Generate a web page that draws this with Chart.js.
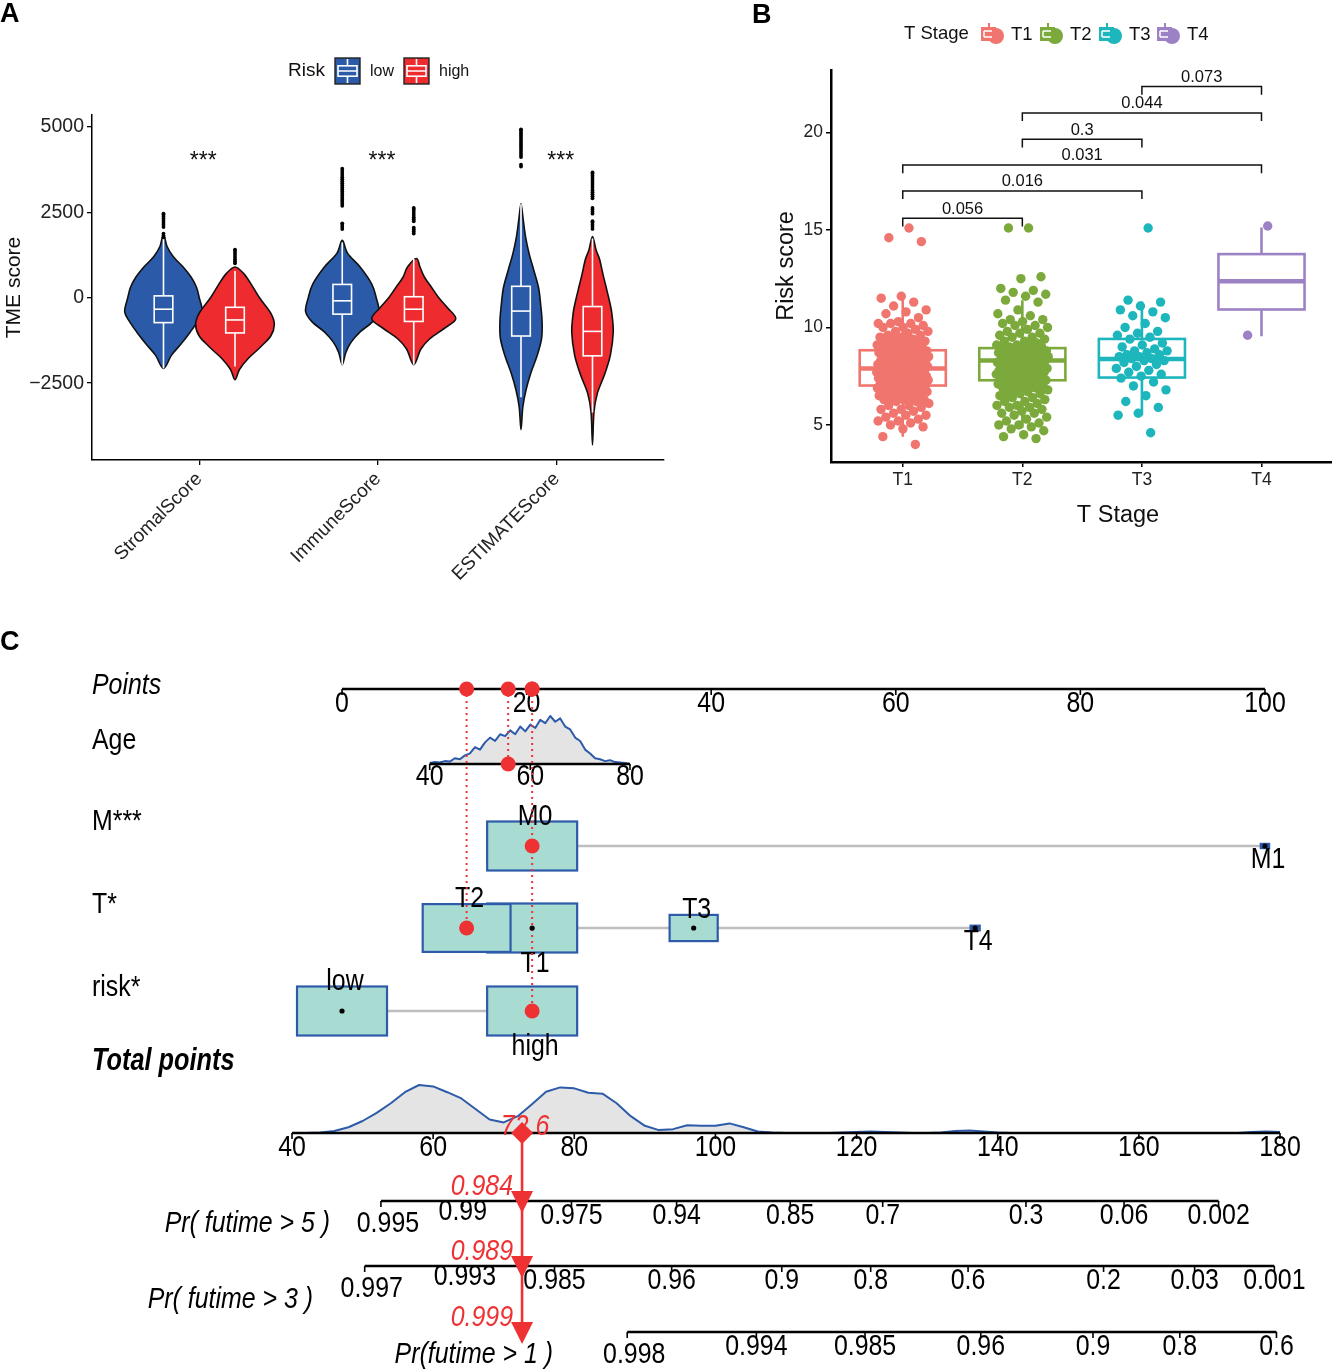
<!DOCTYPE html>
<html lang="en">
<head>
<meta charset="UTF-8">
<title>TME score, risk score by T stage and nomogram</title>
<script src="https://cdn.jsdelivr.net/npm/chart.js"></script>
<style>
  body { margin: 0; background: #fff; }
  #page { position: relative; width: 1332px; height: 1370px; overflow: hidden; background: #fff; }
  canvas { position: absolute; }
  .tag { position: absolute; font: bold 27px 'Liberation Sans', Arial, sans-serif; color: #000; }
</style>
</head>
<body>
<div id="page">
  <canvas id="chartA" width="700" height="600" style="left:0;top:0"></canvas>
  <canvas id="chartB" width="665" height="540" style="left:740px;top:0"></canvas>
  <canvas id="chartC" width="1332" height="730" style="left:0;top:640px"></canvas>
  <div class="tag" style="left:0;top:-2px">A</div>
  <div class="tag" style="left:752px;top:-1px">B</div>
  <div class="tag" style="left:0;top:626px">C</div>
</div>
<script>
const FONT = "'Liberation Sans', Arial, Helvetica, sans-serif";
Chart.defaults.font.family = FONT;
Chart.defaults.color = '#111';

// ---------------- A: TME scores by risk group ----------------
const tmeScores = ['StromalScore', 'ImmuneScore', 'ESTIMATEScore'];
const riskGroups = ['low', 'high'];
const tmeTicks = [-2500, 0, 2500, 5000];
const tmeSignif = ['***', '***', '***'];

// [lower whisker, Q1, median, Q3, upper whisker]
const boxLow = [[-2070, -728, -336, 55, 1850], [-1960, -480, -90, 390, 1620], [-2910, -1120, -390, 335, 2740]];
const boxHigh = [[-2015, -1030, -650, -280, 780], [-1960, -694, -336, 30, 1140], [-3360, -1700, -985, -258, 1735]];

const outLow = [
  [1770, 1820, 1880, 2070, 2130, 2190, 2250, 2310, 2370, 2430, 2460],
  [2010, 2070, 2130, 2180, 2690, 2750, 2810, 2870, 2930, 2990, 3050, 3110, 3170, 3230, 3290, 3350, 3410, 3470, 3530, 3590, 3650, 3710, 3780],
  [3840, 3900, 4120, 4180, 4240, 4300, 4360, 4420, 4480, 4540, 4600, 4660, 4720, 4780, 4840, 4900, 4930]
];
const outHigh = [
  [1010, 1070, 1130, 1190, 1250, 1310, 1370, 1410],
  [1880, 1940, 2000, 2050, 2240, 2300, 2360, 2420, 2480, 2540, 2600, 2630],
  [2015, 2075, 2135, 2195, 2240, 2460, 2520, 2580, 2630, 2910, 2970, 3030, 3090, 3150, 3210, 3270, 3330, 3390, 3450, 3510, 3570, 3630, 3670]
];

// violin outlines: score levels (top to bottom) and half widths
const stromalLowLevel = [1850, 1500, 1200, 900, 600, 300, 0, -400, -700, -1000, -1340, -1680, -2070];
const stromalLowWidth = [0, 0.02, 0.055, 0.11, 0.155, 0.185, 0.2, 0.217, 0.19, 0.15, 0.1, 0.045, 0];
const stromalHighLevel = [900, 700, 400, 0, -450, -780, -1120, -1455, -1800, -2100, -2400];
const stromalHighWidth = [0, 0.05, 0.09, 0.137, 0.2, 0.22, 0.2, 0.14, 0.07, 0.025, 0];
const immuneLowLevel = [1680, 1300, 900, 400, 0, -400, -700, -1000, -1300, -1600, -1960];
const immuneLowWidth = [0, 0.03, 0.1, 0.165, 0.19, 0.205, 0.17, 0.1, 0.05, 0.02, 0];
const immuneHighLevel = [1150, 900, 600, 300, 0, -300, -620, -900, -1200, -1500, -1960];
const immuneHighWidth = [0.015, 0.035, 0.06, 0.1, 0.14, 0.19, 0.235, 0.17, 0.09, 0.04, 0];
const estimateLowLevel = [2750, 2300, 1800, 1300, 800, 300, -200, -700, -1200, -1700, -2200, -2700, -3200, -3860];
const estimateLowWidth = [0, 0.012, 0.025, 0.045, 0.072, 0.098, 0.11, 0.118, 0.115, 0.09, 0.055, 0.028, 0.01, 0];
const estimateHighLevel = [1790, 1400, 1120, 700, 335, -100, -450, -1010, -1680, -2240, -2800, -3360, -4310];
const estimateHighWidth = [0, 0.02, 0.04, 0.058, 0.075, 0.095, 0.108, 0.116, 0.1, 0.068, 0.027, 0.008, 0];

const riskColors = ['#2B5BA8', '#EE2B2F'];
const riskShift = [-0.2, 0.2];
const violins = [
  { score: 1, group: 0, level: stromalLowLevel, width: stromalLowWidth },
  { score: 1, group: 1, level: stromalHighLevel, width: stromalHighWidth },
  { score: 2, group: 0, level: immuneLowLevel, width: immuneLowWidth },
  { score: 2, group: 1, level: immuneHighLevel, width: immuneHighWidth },
  { score: 3, group: 0, level: estimateLowLevel, width: estimateLowWidth },
  { score: 3, group: 1, level: estimateHighLevel, width: estimateHighWidth }
];

function smoothClosed(ctx, pts) {
  const n = pts.length;
  ctx.moveTo(pts[0][0], pts[0][1]);
  for (let i = 0; i < n; i++) {
    const p0 = pts[(i - 1 + n) % n], p1 = pts[i], p2 = pts[(i + 1) % n], p3 = pts[(i + 2) % n];
    ctx.bezierCurveTo(p1[0] + (p2[0] - p0[0]) / 6, p1[1] + (p2[1] - p0[1]) / 6,
                      p2[0] - (p3[0] - p1[0]) / 6, p2[1] - (p3[1] - p1[1]) / 6, p2[0], p2[1]);
  }
  ctx.closePath();
}

function boxKey(ctx, x, y, w, h, fill) {
  ctx.fillStyle = fill;
  ctx.fillRect(x, y, w, h);
  ctx.strokeStyle = '#222'; ctx.lineWidth = 1.4;
  ctx.strokeRect(x, y, w, h);
  ctx.strokeStyle = '#fff'; ctx.lineWidth = 1.6;
  const cx = x + w / 2;
  ctx.strokeRect(x + 3, y + h * 0.3, w - 6, h * 0.4);
  ctx.beginPath();
  ctx.moveTo(x + 3, y + h / 2); ctx.lineTo(x + w - 3, y + h / 2);
  ctx.moveTo(cx, y + 1); ctx.lineTo(cx, y + h * 0.3);
  ctx.moveTo(cx, y + h * 0.7); ctx.lineTo(cx, y + h - 1);
  ctx.stroke();
}

const violinPlugin = {
  id: 'violins',
  beforeDatasetsDraw(chart) {
    const { ctx, scales: { x, y } } = chart;
    violins.forEach(v => {
      const cx = v.score + riskShift[v.group];
      const right = v.level.map((lv, i) => [x.getPixelForValue(cx + v.width[i]), y.getPixelForValue(lv)]);
      const left = [];
      for (let i = v.level.length - 2; i >= 1; i--) {
        left.push([x.getPixelForValue(cx - v.width[i]), y.getPixelForValue(v.level[i])]);
      }
      ctx.save();
      ctx.beginPath();
      smoothClosed(ctx, right.concat(left));
      ctx.fillStyle = riskColors[v.group];
      ctx.fill();
      ctx.lineWidth = 1.6; ctx.strokeStyle = '#111'; ctx.stroke();

      const s = (v.group === 0 ? boxLow : boxHigh)[v.score - 1];
      const py = s.map(val => y.getPixelForValue(val));
      const xc = x.getPixelForValue(cx);
      const bx0 = x.getPixelForValue(cx - 0.052), bx1 = x.getPixelForValue(cx + 0.052);
      ctx.strokeStyle = '#fff'; ctx.lineWidth = 1.6;
      ctx.beginPath();
      ctx.moveTo(xc, py[0]); ctx.lineTo(xc, py[1]);
      ctx.moveTo(xc, py[3]); ctx.lineTo(xc, py[4]);
      ctx.stroke();
      ctx.fillRect(bx0, py[3], bx1 - bx0, py[1] - py[3]);
      ctx.strokeRect(bx0, py[3], bx1 - bx0, py[1] - py[3]);
      ctx.beginPath(); ctx.moveTo(bx0, py[2]); ctx.lineTo(bx1, py[2]); ctx.stroke();
      ctx.restore();
    });
  },
  afterDatasetsDraw(chart) {
    const { ctx, scales: { x, y } } = chart;
    ctx.save();
    ctx.fillStyle = '#111'; ctx.font = `23px ${FONT}`;
    ctx.textAlign = 'center'; ctx.textBaseline = 'middle';
    tmeSignif.forEach((s, i) => ctx.fillText(s, x.getPixelForValue(i + 1) + 4, y.getPixelForValue(3980)));
    ctx.restore();
  },
  afterDraw(chart) {
    const ctx = chart.ctx;
    ctx.save();
    ctx.fillStyle = '#111'; ctx.textBaseline = 'middle'; ctx.textAlign = 'left';
    ctx.font = `19px ${FONT}`;
    ctx.fillText('Risk', 288, 71);
    ctx.font = `16px ${FONT}`;
    boxKey(ctx, 335, 58, 25, 26, riskColors[0]);
    ctx.fillStyle = '#111';
    ctx.fillText(riskGroups[0], 370, 72);
    boxKey(ctx, 404, 58, 25, 26, riskColors[1]);
    ctx.fillStyle = '#111';
    ctx.fillText(riskGroups[1], 439, 72);
    ctx.restore();
  }
};

const outlierPoints = [];
outLow.forEach((arr, i) => arr.forEach(v => outlierPoints.push({ x: i + 1 + riskShift[0], y: v })));
outHigh.forEach((arr, i) => arr.forEach(v => outlierPoints.push({ x: i + 1 + riskShift[1], y: v })));

new Chart(document.getElementById('chartA'), {
  type: 'scatter',
  data: { datasets: [{ label: 'outliers', data: outlierPoints, pointRadius: 1.9, backgroundColor: '#000', borderWidth: 0, clip: false }] },
  options: {
    responsive: false, animation: false,
    layout: { autoPadding: false, padding: { left: 0, top: 115, right: 36, bottom: 0 } },
    plugins: { legend: { display: false }, tooltip: { enabled: false } },
    scales: {
      x: {
        type: 'linear', min: 0.4, max: 3.6,
        afterBuildTicks: s => { s.ticks = tmeScores.map((_, i) => ({ value: i + 1 })); },
        afterFit: s => { s.height = 140; },
        ticks: { callback: v => tmeScores[v - 1], minRotation: 45, maxRotation: 45, autoSkip: false, color: '#222', font: { size: 19 } },
        grid: { drawOnChartArea: false, tickLength: 5, color: '#000', lineWidth: 1.3 },
        border: { color: '#000', width: 1.5 }
      },
      y: {
        min: -4750, max: 5350,
        afterBuildTicks: s => { s.ticks = tmeTicks.map(v => ({ value: v })); },
        afterFit: s => { s.width = 92; },
        ticks: { callback: v => v < 0 ? '\u2212' + Math.abs(v) : String(v), color: '#222', font: { size: 19.5 } },
        grid: { drawOnChartArea: false, tickLength: 5, color: '#000', lineWidth: 1.3 },
        border: { color: '#000', width: 1.5 },
        title: { display: true, text: 'TME score', font: { size: 21 }, color: '#111', padding: { top: 2, bottom: 4 } }
      }
    }
  },
  plugins: [violinPlugin]
});

// ---------------- B: risk score by T stage ----------------
const stages = ['T1', 'T2', 'T3', 'T4'];
const stageTicks = [5, 10, 15, 20];
const t1Risk = [15.1, 14.6, 14.4, 11.6, 11.5, 11.3, 11.1, 10.9, 10.8, 10.7, 10.5, 10.3, 10.2, 10.2, 10.2, 10.1, 10.0, 10.0,
  9.9, 9.8, 9.8, 9.7, 9.6, 9.6, 9.5, 9.5, 9.4, 9.4, 9.3, 9.3, 9.2, 9.2, 9.1, 9.1, 9.0, 9.0, 9.0, 8.9, 8.9, 8.9, 8.8, 8.8,
  8.8, 8.8, 8.7, 8.7, 8.7, 8.6, 8.6, 8.6, 8.6, 8.5, 8.5, 8.5, 8.5, 8.4, 8.4, 8.4, 8.4, 8.3, 8.3, 8.3, 8.3, 8.2, 8.2, 8.2,
  8.2, 8.1, 8.1, 8.1, 8.1, 8.1, 8.0, 8.0, 8.0, 8.0, 8.0, 7.9, 7.9, 7.9, 7.9, 7.9, 7.8, 7.8, 7.8, 7.8, 7.8, 7.7, 7.7, 7.7,
  7.7, 7.7, 7.6, 7.6, 7.6, 7.6, 7.5, 7.5, 7.5, 7.5, 7.5, 7.4, 7.4, 7.4, 7.4, 7.3, 7.3, 7.3, 7.3, 7.3, 7.2, 7.2, 7.2, 7.2,
  7.1, 7.1, 7.1, 7.0, 7.0, 7.0, 7.0, 6.9, 6.9, 6.9, 6.9, 6.8, 6.8, 6.8, 6.7, 6.7, 6.7, 6.6, 6.6, 6.5, 6.5, 6.5, 6.4, 6.4,
  6.3, 6.3, 6.3, 6.2, 6.2, 6.1, 6.0, 6.0, 5.9, 5.8, 5.8, 5.7, 5.6, 5.5, 5.5, 5.4, 5.3, 5.2, 5.2, 5.1, 5.0, 4.9, 4.8, 4.4,
  4.0];
const t2Risk = [15.1, 15.1, 12.6, 12.5, 12.0, 11.9, 11.8, 11.7, 11.6, 11.4, 11.3, 10.9, 10.7, 10.6, 10.4, 10.4, 10.3, 10.2,
  10.1, 10.1, 10.0, 9.9, 9.8, 9.7, 9.7, 9.6, 9.5, 9.5, 9.4, 9.3, 9.3, 9.2, 9.1, 9.1, 9.1, 9.0, 9.0, 9.0, 8.9, 8.9, 8.9,
  8.8, 8.8, 8.8, 8.7, 8.7, 8.7, 8.6, 8.6, 8.6, 8.6, 8.5, 8.5, 8.5, 8.5, 8.4, 8.4, 8.4, 8.4, 8.3, 8.3, 8.3, 8.3, 8.3,
  8.2, 8.2, 8.2, 8.2, 8.1, 8.1, 8.1, 8.1, 8.0, 8.0, 8.0, 7.9, 7.9, 7.9, 7.9, 7.8, 7.8, 7.8, 7.8, 7.7, 7.7, 7.7, 7.6,
  7.6, 7.6, 7.5, 7.5, 7.5, 7.5, 7.4, 7.4, 7.3, 7.3, 7.3, 7.2, 7.2, 7.2, 7.1, 7.1, 7.0, 7.0, 7.0, 6.9, 6.9, 6.8, 6.8,
  6.7, 6.6, 6.6, 6.6, 6.5, 6.4, 6.4, 6.3, 6.2, 6.2, 6.1, 6.0, 6.0, 5.9, 5.9, 5.8, 5.7, 5.6, 5.6, 5.5, 5.4, 5.3, 5.2,
  5.1, 5.0, 5.0, 4.9, 4.8, 4.7, 4.5, 4.4, 4.3];
const t3Risk = [15.1, 11.4, 11.3, 11.1, 10.9, 10.8, 10.6, 10.5, 10.2, 10.0, 9.8, 9.7, 9.6, 9.5, 9.4, 9.2, 9.1, 9.0, 8.9,
  8.8, 8.8, 8.7, 8.6, 8.6, 8.5, 8.5, 8.4, 8.4, 8.3, 8.3, 8.2, 8.1, 8.0, 7.9, 7.8, 7.7, 7.6, 7.5, 7.4, 7.2, 7.0, 6.8,
  6.5, 6.2, 5.9, 5.6, 5.5, 4.6];
const t4Risk = [15.2, 9.6];
// [lower whisker, Q1, median, Q3, upper whisker]
const stageBox = [[4.4, 7.02, 7.9, 8.83, 11.5], [4.85, 7.29, 8.3, 8.94, 11.4], [5.5, 7.43, 8.38, 9.41, 11.33], [9.55, 10.92, 12.37, 13.76, 15.12]];
const pairFrom = [1, 1, 1, 2, 2, 3];
const pairTo = [2, 3, 4, 3, 4, 4];
const pairLevel = [15.6, 17.0, 18.33, 19.65, 21.0, 22.35];
const pairP = ['0.056', '0.016', '0.031', '0.3', '0.044', '0.073'];

const stageColors = ['#F0756E', '#7BA93B', '#1CB6BC', '#9C82C5'];
const jitter = i => ((((i + 1) * 0.618034) % 1) - 0.5) * 0.44;

const stagePlugin = {
  id: 'stageBoxes',
  beforeDatasetsDraw(chart) {
    const { ctx, scales: { x, y } } = chart;
    stageBox.forEach((s, i) => {
      const c = i + 1;
      const x0 = x.getPixelForValue(c - 0.36), x1 = x.getPixelForValue(c + 0.36), xc = x.getPixelForValue(c);
      const py = s.map(v => y.getPixelForValue(v));
      ctx.save();
      ctx.strokeStyle = stageColors[i]; ctx.lineWidth = 2.6;
      ctx.beginPath();
      ctx.moveTo(xc, py[0]); ctx.lineTo(xc, py[1]);
      ctx.moveTo(xc, py[3]); ctx.lineTo(xc, py[4]);
      ctx.stroke();
      ctx.fillStyle = '#fff';
      ctx.fillRect(x0, py[3], x1 - x0, py[1] - py[3]);
      ctx.strokeRect(x0, py[3], x1 - x0, py[1] - py[3]);
      ctx.lineWidth = 4.5;
      ctx.beginPath(); ctx.moveTo(x0, py[2]); ctx.lineTo(x1, py[2]); ctx.stroke();
      ctx.restore();
    });
  },
  afterDatasetsDraw(chart) {
    const { ctx, scales: { x, y } } = chart;
    ctx.save();
    ctx.strokeStyle = '#111'; ctx.lineWidth = 1.5; ctx.fillStyle = '#111';
    ctx.font = `16.5px ${FONT}`; ctx.textAlign = 'center'; ctx.textBaseline = 'bottom';
    pairP.forEach((p, i) => {
      const xa = x.getPixelForValue(pairFrom[i]), xb = x.getPixelForValue(pairTo[i]);
      const yl = y.getPixelForValue(pairLevel[i]), yt = y.getPixelForValue(pairLevel[i] - 0.42);
      ctx.beginPath();
      ctx.moveTo(xa, yt); ctx.lineTo(xa, yl); ctx.lineTo(xb, yl); ctx.lineTo(xb, yt);
      ctx.stroke();
      ctx.fillText(p, (xa + xb) / 2, yl - 1);
    });
    ctx.restore();
  },
  afterDraw(chart) {
    const ctx = chart.ctx;
    ctx.save();
    ctx.fillStyle = '#111'; ctx.textBaseline = 'middle'; ctx.textAlign = 'left';
    ctx.font = `18.5px ${FONT}`;
    ctx.fillText('T Stage', 164, 34);
    const keyX = [240, 299, 358, 416];
    stages.forEach((s, i) => {
      const kx = keyX[i], ky = 34;
      ctx.fillStyle = stageColors[i];
      ctx.fillRect(kx + 1, ky - 7, 15, 14);
      ctx.beginPath(); ctx.arc(kx + 16, ky + 2, 8, 0, Math.PI * 2); ctx.fill();
      ctx.fillRect(kx + 8, ky - 11, 2, 5);
      ctx.strokeStyle = '#fff'; ctx.lineWidth = 1.5;
      ctx.beginPath();
      ctx.moveTo(kx + 4, ky - 3); ctx.lineTo(kx + 12, ky - 3);
      ctx.moveTo(kx + 4, ky + 3); ctx.lineTo(kx + 12, ky + 3);
      ctx.moveTo(kx + 4, ky - 3); ctx.lineTo(kx + 4, ky + 3);
      ctx.stroke();
      ctx.fillStyle = '#111';
      ctx.fillText(s, kx + 31, ky + 1);
    });
    ctx.restore();
  }
};

const stageValues = [t1Risk, t2Risk, t3Risk, t4Risk];
new Chart(document.getElementById('chartB'), {
  type: 'scatter',
  data: {
    datasets: stageValues.map((vals, i) => ({
      label: stages[i],
      data: vals.map((v, j) => ({ x: i + 1 + jitter(j), y: v })),
      pointRadius: 4.7, backgroundColor: stageColors[i], borderWidth: 0
    }))
  },
  options: {
    responsive: false, animation: false,
    layout: { autoPadding: false, padding: { left: 32, top: 70, right: 0, bottom: 0 } },
    plugins: { legend: { display: false }, tooltip: { enabled: false } },
    scales: {
      x: {
        type: 'linear', min: 0.4, max: 5.2,
        afterBuildTicks: s => { s.ticks = stages.map((_, i) => ({ value: i + 1 })); },
        afterFit: s => { s.height = 78; },
        ticks: { callback: v => stages[v - 1], autoSkip: false, maxRotation: 0, color: '#222', font: { size: 17.5 } },
        grid: { drawOnChartArea: false, tickLength: 5, color: '#000', lineWidth: 1.5 },
        border: { color: '#000', width: 2.5 },
        title: { display: true, text: 'T Stage', font: { size: 23.5 }, color: '#111', padding: { top: 4, bottom: 10 } }
      },
      y: {
        min: 3.1, max: 23.2,
        afterBuildTicks: s => { s.ticks = stageTicks.map(v => ({ value: v })); },
        afterFit: s => { s.width = 59; },
        ticks: { color: '#222', font: { size: 17.5 } },
        grid: { drawOnChartArea: false, tickLength: 5, color: '#000', lineWidth: 1.5 },
        border: { color: '#000', width: 2.5 },
        title: { display: true, text: 'Risk score', font: { size: 23.5 }, color: '#111', padding: { top: 0, bottom: 4 } }
      }
    }
  },
  plugins: [stagePlugin]
});

// ---------------- C: nomogram ----------------
const pointsTicks = [0, 20, 40, 60, 80, 100];
const ageTicks = [40, 60, 80];
const ageTickPoints = [9.5, 20.4, 31.2];
// age density, ages 40..80 by 1
const ageDensity = [0.02, 0.04, 0.03, 0.06, 0.05, 0.12, 0.10, 0.18, 0.22, 0.35, 0.30, 0.45, 0.55, 0.48, 0.62, 0.58, 0.70,
  0.62, 0.78, 0.68, 0.82, 0.75, 0.92, 0.85, 1.0, 0.88, 0.95, 0.78, 0.72, 0.55, 0.48, 0.30, 0.22, 0.12, 0.10, 0.06, 0.08,
  0.04, 0.03, 0.02, 0.0];
const mLevels = ['M0', 'M1'];
const mPoints = [20.6, 100];
const mShare = [0.99, 0.01];
const tLevels = ['T1', 'T2', 'T3', 'T4'];
const tPoints = [20.6, 13.5, 38.1, 68.6];
const tShare = [0.42, 0.40, 0.12, 0.005];
const riskLevels = ['low', 'high'];
const riskPoints = [0, 20.6];
const riskShare = [0.5, 0.5];
const totalTicks = [40, 60, 80, 100, 120, 140, 160, 180];
// total points density, 40..180 by 2
const totalDensity = [0, 0, 0.01, 0.04, 0.12, 0.25, 0.42, 0.62, 0.85, 1.0, 0.97, 0.85, 0.72, 0.5, 0.28, 0.22, 0.35, 0.6,
  0.86, 0.95, 0.93, 0.84, 0.82, 0.62, 0.35, 0.15, 0.06, 0.08, 0.16, 0.15, 0.15, 0.2, 0.12, 0.03, 0.01, 0, 0, 0, 0, 0.01,
  0.02, 0.03, 0.02, 0.01, 0, 0, 0.01, 0.04, 0.05, 0.03, 0.01, 0, 0, 0, 0, 0, 0, 0, 0, 0, 0, 0, 0, 0, 0, 0, 0, 0, 0.02,
  0.03, 0.02];
const pr5Labels = ['0.995', '0.99', '0.975', '0.94', '0.85', '0.7', '0.3', '0.06', '0.002'];
const pr5Total = [52.6, 64.2, 79.6, 94.5, 110.6, 123.7, 144.0, 157.9, 171.3];
const pr3Labels = ['0.997', '0.993', '0.985', '0.96', '0.9', '0.8', '0.6', '0.2', '0.03', '0.001'];
const pr3Total = [50.3, 64.5, 77.2, 93.8, 109.4, 122.0, 135.8, 155.0, 167.9, 179.2];
const pr1Labels = ['0.998', '0.994', '0.985', '0.96', '0.9', '0.8', '0.6'];
const pr1Total = [87.5, 105.8, 121.2, 137.6, 153.5, 165.8, 179.5];
const patientAge = 55.6;
const patientLevels = ['M0', 'T2', 'high'];
const patientTotal = 72.6;
const patientPr = ['0.984', '0.989', '0.999'];

const RED = '#EE3233';
const SQ = 0.83;
const rowY = { points: 49, age: 124, M: 206, T: 288, risk: 371, total: 493, pr5: 561, pr3: 626, pr1: 692 };
const nomoVars = [
  { levels: mLevels, points: mPoints, share: mShare, row: 'M', title: 'M***', titleY: 182 },
  { levels: tLevels, points: tPoints, share: tShare, row: 'T', title: 'T*', titleY: 265 },
  { levels: riskLevels, points: riskPoints, share: riskShare, row: 'risk', title: 'risk*', titleY: 348 }
];
const prAxes = [
  { labels: pr5Labels, total: pr5Total, row: 'pr5', title: 'Pr( futime > 5 )', titleX: 330, titleY: 584 },
  { labels: pr3Labels, total: pr3Total, row: 'pr3', title: 'Pr( futime > 3 )', titleX: 313, titleY: 660 },
  { labels: pr1Labels, total: pr1Total, row: 'pr1', title: 'Pr(futime > 1 )', titleX: 553, titleY: 715 }
];

function agePoints(a) {
  for (let i = 0; i < ageTicks.length - 1; i++) {
    if (a <= ageTicks[i + 1] || i === ageTicks.length - 2) {
      const f = (a - ageTicks[i]) / (ageTicks[i + 1] - ageTicks[i]);
      return ageTickPoints[i] + f * (ageTickPoints[i + 1] - ageTickPoints[i]);
    }
  }
}

function txt(ctx, s, x, y, size, opt = {}) {
  ctx.save();
  ctx.font = `${opt.style || ''} ${size}px ${FONT}`;
  ctx.fillStyle = opt.color || '#000';
  ctx.textAlign = opt.align || 'center';
  ctx.textBaseline = opt.baseline || 'middle';
  ctx.translate(x, y);
  ctx.scale(SQ, 1);
  ctx.fillText(s, 0, 0);
  ctx.restore();
}

function axisLine(ctx, xs, y, labels, labelY) {
  ctx.save();
  ctx.strokeStyle = '#000'; ctx.lineWidth = 2.6;
  ctx.beginPath(); ctx.moveTo(xs[0], y); ctx.lineTo(xs[xs.length - 1], y); ctx.stroke();
  ctx.lineWidth = 1.6;
  ctx.beginPath();
  xs.forEach(px => { ctx.moveTo(px, y); ctx.lineTo(px, y + 6); });
  ctx.stroke();
  ctx.restore();
  labels.forEach((l, i) => txt(ctx, l, xs[i], labelY, 30));
}

function density(ctx, xs, vals, base, h) {
  ctx.save();
  ctx.beginPath();
  ctx.moveTo(xs[0], base);
  xs.forEach((px, i) => ctx.lineTo(px, base - vals[i] * h));
  ctx.lineTo(xs[xs.length - 1], base);
  ctx.closePath();
  ctx.fillStyle = '#E4E4E4'; ctx.fill();
  ctx.beginPath();
  xs.forEach((px, i) => i ? ctx.lineTo(px, base - vals[i] * h) : ctx.moveTo(px, base - vals[i] * h));
  ctx.strokeStyle = '#2D5BAA'; ctx.lineWidth = 2; ctx.lineJoin = 'round'; ctx.stroke();
  ctx.restore();
}

const nomoPlugin = {
  id: 'nomogram',
  beforeDatasetsDraw(chart) {
    const { ctx, scales: { x, xt } } = chart;
    const px = v => x.getPixelForValue(v);
    const tx = v => xt.getPixelForValue(v);

    // row titles
    txt(ctx, 'Points', 92, 46, 30, { style: 'italic', align: 'left' });
    txt(ctx, 'Age', 92, 101, 30, { align: 'left' });
    nomoVars.forEach(v => txt(ctx, v.title, 92, v.titleY, 30, { align: 'left' }));
    txt(ctx, 'Total points', 92, 422, 30.5, { style: 'italic bold', align: 'left' });

    // points scale
    axisLine(ctx, pointsTicks.map(px), rowY.points, pointsTicks.map(String), rowY.points + 15);

    // age
    const ageX = ageDensity.map((_, i) => px(agePoints(40 + i)));
    density(ctx, ageX, ageDensity, rowY.age, 48);
    axisLine(ctx, ageTickPoints.map(px), rowY.age, ageTicks.map(String), rowY.age + 13);

    // categorical variables
    nomoVars.forEach(v => {
      const y = rowY[v.row];
      const maxShare = Math.max(...v.share);
      ctx.save();
      ctx.strokeStyle = '#BEBEBE'; ctx.lineWidth = 2.6;
      ctx.beginPath();
      ctx.moveTo(px(Math.min(...v.points)), y); ctx.lineTo(px(Math.max(...v.points)), y);
      ctx.stroke();
      v.levels.forEach((l, i) => {
        const k = Math.sqrt(v.share[i] / maxShare);
        const hw = 45 * k, hh = 24.5 * k;
        ctx.fillStyle = k < 0.3 ? '#2D5BAA' : '#A8DCD3';
        ctx.strokeStyle = '#2D5BAA'; ctx.lineWidth = k < 0.3 ? 1.5 : 2.2;
        ctx.fillRect(px(v.points[i]) - hw, y - hh, 2 * hw, 2 * hh);
        ctx.strokeRect(px(v.points[i]) - hw, y - hh, 2 * hw, 2 * hh);
      });
      ctx.restore();
      const order = v.points.map((p, i) => i).sort((a, b) => v.points[a] - v.points[b]);
      order.forEach((i, r) => {
        const hh = 24.5 * Math.sqrt(v.share[i] / maxShare);
        if (r % 2 === 0) txt(ctx, v.levels[i], px(v.points[i]) + 3, y - hh - 5, 30);
        else txt(ctx, v.levels[i], px(v.points[i]) + 3, y + hh + 11, 30);
      });
    });

    // dotted guides from the points scale
    const guides = [
      [tPoints[tLevels.indexOf('T2')], rowY.T],
      [agePoints(patientAge), rowY.age],
      [mPoints[mLevels.indexOf('M0')], rowY.risk]
    ];
    ctx.save();
    ctx.strokeStyle = RED; ctx.lineWidth = 2; ctx.setLineDash([2, 4]);
    guides.forEach(g => {
      ctx.beginPath(); ctx.moveTo(px(g[0]), rowY.points); ctx.lineTo(px(g[0]), g[1]); ctx.stroke();
    });
    ctx.restore();

    // total points
    const totX = totalDensity.map((_, i) => tx(40 + 2 * i));
    density(ctx, totX, totalDensity, rowY.total, 48);
    axisLine(ctx, totalTicks.map(tx), rowY.total, totalTicks.map(String), rowY.total + 15);

    // survival probability scales
    prAxes.forEach(a => {
      const xs = a.total.map(tx);
      const y = rowY[a.row];
      ctx.save();
      ctx.strokeStyle = '#000'; ctx.lineWidth = 2.6;
      ctx.beginPath(); ctx.moveTo(xs[0], y); ctx.lineTo(xs[xs.length - 1], y); ctx.stroke();
      ctx.lineWidth = 1.6; ctx.beginPath();
      xs.forEach(p => { ctx.moveTo(p, y); ctx.lineTo(p, y + 6); });
      ctx.stroke();
      ctx.restore();
      a.labels.forEach((l, i) => {
        let ly = y + 15;
        if (i === 0) ly += 8;
        if (i === 1 && xs[1] - xs[0] < 110) ly -= 4;
        txt(ctx, l, xs[i] + (i === 0 ? 7 : 0), ly, 30);
      });
      txt(ctx, a.title, a.titleX, a.titleY, 30, { style: 'italic', align: 'right' });
    });
  },
  afterDatasetsDraw(chart) {
    const { ctx, scales: { xt } } = chart;
    const mx = xt.getPixelForValue(patientTotal);
    ctx.save();
    ctx.strokeStyle = RED; ctx.lineWidth = 2.6;
    ctx.beginPath(); ctx.moveTo(mx, rowY.total); ctx.lineTo(mx, rowY.pr1 + 8); ctx.stroke();
    ctx.restore();
    txt(ctx, String(patientTotal), mx + 3, rowY.total - 6, 30, { style: 'italic', color: RED });
    ctx.save();
    ctx.fillStyle = RED;
    ctx.beginPath();
    ctx.moveTo(mx, rowY.total - 11); ctx.lineTo(mx + 11, rowY.total);
    ctx.lineTo(mx, rowY.total + 11); ctx.lineTo(mx - 11, rowY.total);
    ctx.closePath(); ctx.fill();
    ['pr5', 'pr3', 'pr1'].forEach(r => {
      const y = rowY[r];
      ctx.beginPath();
      ctx.moveTo(mx - 11, y - 10); ctx.lineTo(mx + 11, y - 10); ctx.lineTo(mx, y + 12);
      ctx.closePath(); ctx.fill();
    });
    ctx.restore();
    patientPr.forEach((p, i) => txt(ctx, p, mx - 9, rowY[['pr5', 'pr3', 'pr1'][i]] - 14, 30, { style: 'italic', color: RED, align: 'right' }));
  }
};

const blackDots = [], redDots = [];
nomoVars.forEach(v => v.levels.forEach((l, i) => {
  const pt = { x: v.points[i], y: rowY[v.row] };
  (patientLevels.includes(l) ? redDots : blackDots).push(pt);
  if (patientLevels.includes(l)) redDots.push({ x: v.points[i], y: rowY.points });
}));
redDots.push({ x: agePoints(patientAge), y: rowY.age });
redDots.push({ x: agePoints(patientAge), y: rowY.points });

new Chart(document.getElementById('chartC'), {
  type: 'scatter',
  data: {
    datasets: [
      { label: 'other levels', data: blackDots, pointRadius: 2.6, backgroundColor: '#000', borderWidth: 0, clip: false },
      { label: 'patient', data: redDots, pointRadius: 7.5, backgroundColor: RED, borderWidth: 0, clip: false }
    ]
  },
  options: {
    responsive: false, animation: false,
    layout: { autoPadding: false, padding: { left: 292, right: 52, top: 0, bottom: 0 } },
    plugins: { legend: { display: false }, tooltip: { enabled: false } },
    scales: {
      x: { type: 'linear', min: -5.42, max: 101.63, display: false },
      xt: { type: 'linear', axis: 'x', position: 'bottom', min: 40, max: 180, display: false },
      y: { type: 'linear', min: 0, max: 730, reverse: true, display: false }
    }
  },
  plugins: [nomoPlugin]
});
</script>
</body>
</html>
